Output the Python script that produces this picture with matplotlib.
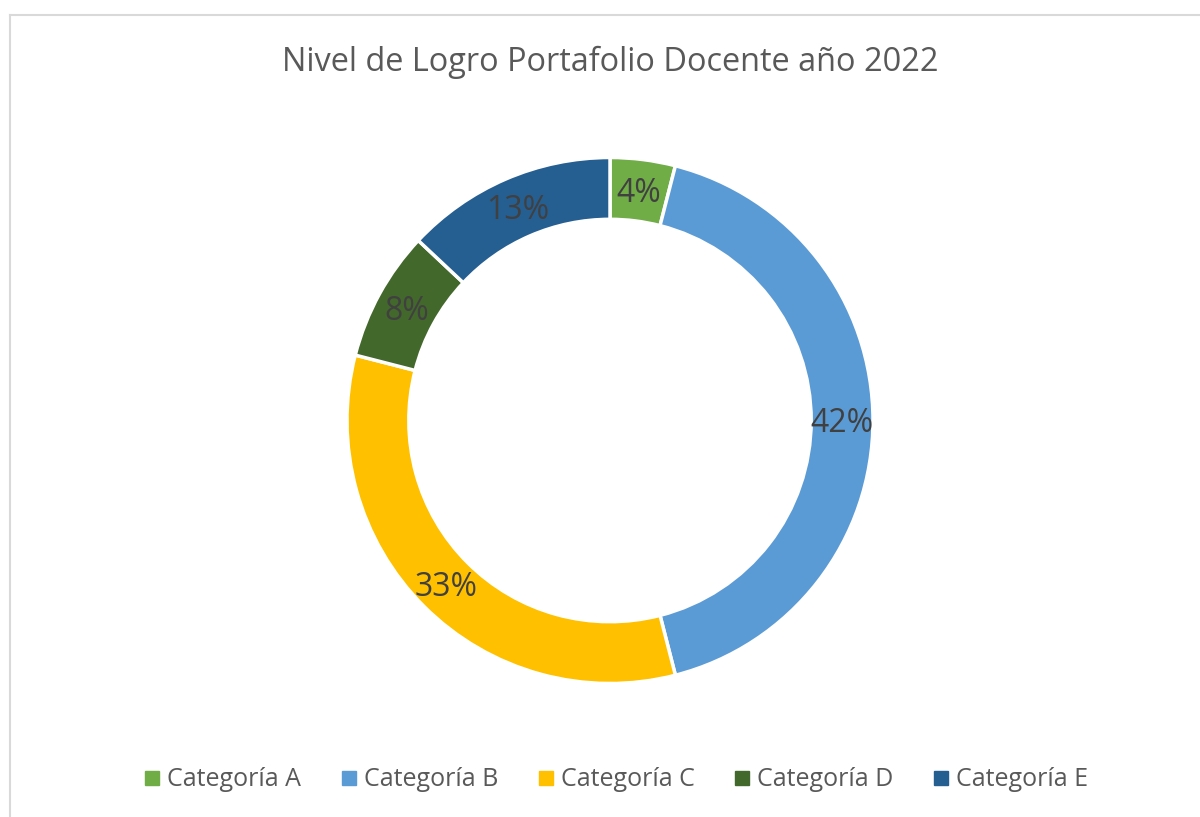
import matplotlib
matplotlib.use("Agg")
import matplotlib.pyplot as plt
import matplotlib.transforms as mtransforms
from matplotlib.lines import Line2D

categories = ["Categoría A", "Categoría B", "Categoría C", "Categoría D", "Categoría E"]
values = [4, 42, 33, 8, 13]
colors = ["#70AD47", "#5B9BD5", "#FFC000", "#43682B", "#255E91"]
title = "Nivel de Logro Portafolio Docente año 2022"

plt.rcParams['font.family'] = ['Open Sans', 'DejaVu Sans']

fig = plt.figure(figsize=(12, 8.17), dpi=100)
fig.patch.set_facecolor("white")

# chart border (left and top visible)
W, H = 1200, 817
fig.add_artist(Line2D([10/W, 10/W], [0, 1 - 15/H], transform=fig.transFigure, color="#d9d9d9", lw=1.5))
fig.add_artist(Line2D([10/W, 1], [1 - 15/H, 1 - 15/H], transform=fig.transFigure, color="#d9d9d9", lw=1.5))

ax = fig.add_axes([347/W, 1 - 684/H, 526/W, 527/H])
wedges, texts, autotexts = ax.pie(
    values, colors=colors, startangle=90, counterclock=False, radius=1.0,
    wedgeprops=dict(width=0.235, edgecolor="white", linewidth=2.5),
    autopct=lambda p: f"{p:.0f}%", pctdistance=0.882,
    textprops=dict(color="#404040", fontsize=23))
shift = mtransforms.offset_copy(ax.transData, fig=fig, x=0, y=-3, units="dots")
for t in autotexts:
    t.set_transform(shift)
ax.set_xlim(-1, 1)
ax.set_ylim(-1, 1)
ax.set_aspect("equal")
ax.axis("off")

fig.text(610/W, 1 - 62/H, title, ha="center", va="center", fontsize=23.4, color="#595959")

handles = [Line2D([], [], marker="s", linestyle="none", markersize=9.5,
                  markerfacecolor=c, markeredgecolor=c) for c in colors]
fig.legend(handles, categories, loc="center", bbox_to_anchor=(617/W, 1 - 780/H),
           ncol=5, frameon=False, fontsize=18, labelcolor="#595959",
           handlelength=0.5, handletextpad=0.35, columnspacing=1.65)

fig.savefig("out.png", dpi=100, facecolor="white")
